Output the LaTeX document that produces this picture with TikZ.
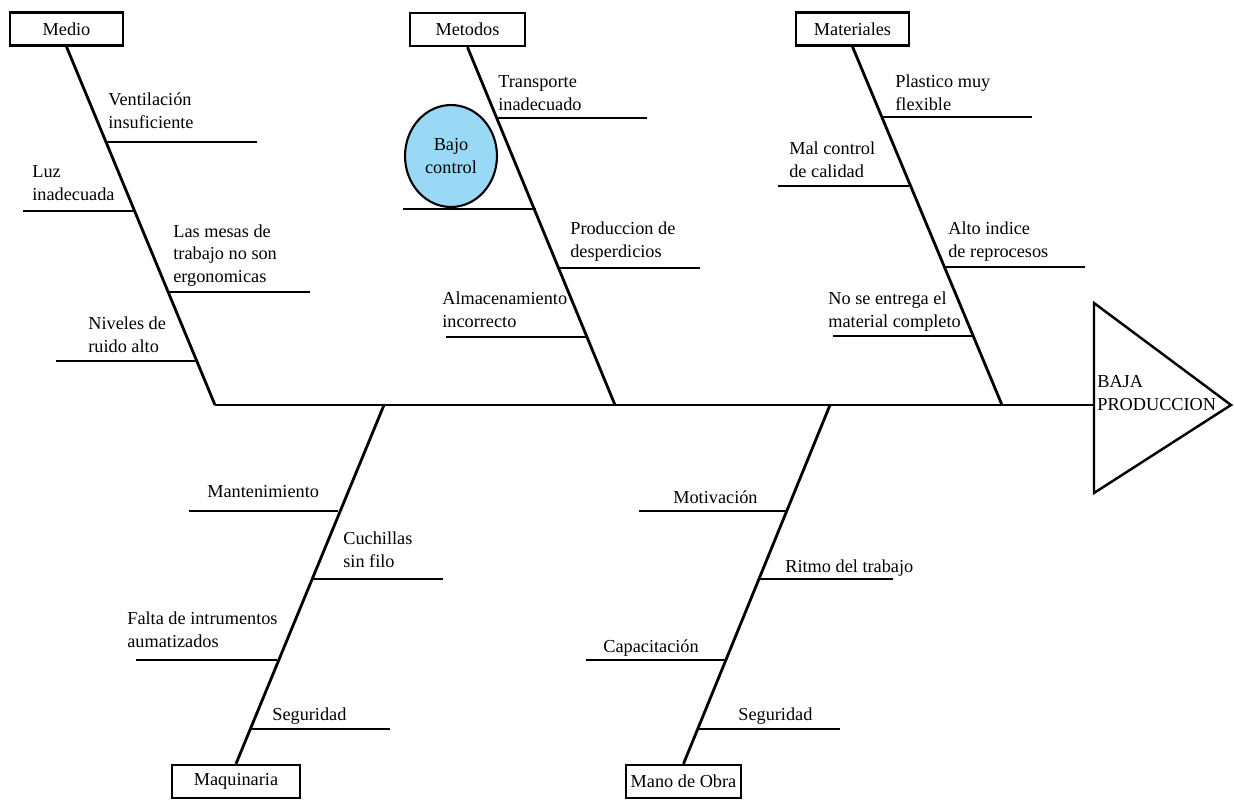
\documentclass[tikz,border=0pt]{standalone}
\usepackage{fontspec}
\setmainfont{Liberation Serif}
\usetikzlibrary{shapes.geometric}
\definecolor{bajoblue}{RGB}{153,217,245}

\tikzset{
  causebox/.style={draw,line width=1.4pt,minimum width=#1,minimum height=0.66cm,inner sep=0pt,font=\fontsize{10.4}{12.6}\selectfont},
  bone/.style={line width=1.6pt},
  lbl/.style={anchor=base west,align=left,inner sep=0pt,font=\fontsize{10.4}{12.6}\selectfont}
}

\begin{document}
\begin{tikzpicture}[x=0.02cm,y=-0.02cm]
\useasboundingbox (0,0) rectangle (1234,799);

% espina y cabeza
\coordinate (s1) at (215,405);
\coordinate (s2) at (615,405);
\coordinate (s3) at (1002,405);
\coordinate (s4) at (384,405);
\coordinate (s5) at (830,405);
\coordinate (tip) at (1094,405);
\draw[bone] (s1) -- (tip);
\draw[line width=1.4pt] (1094,303) -- (1231,405) -- (1094,493) -- cycle;
\node[lbl] (baja) at (1097,410) {BAJA\\PRODUCCION};

% cajas de causas
\node[causebox=2.26cm] (medio) at (66.5,29) {Medio};
\node[causebox=2.3cm] (metodos) at (467.5,29.5) {Metodos};
\node[causebox=2.26cm] (materiales) at (852.5,29) {Materiales};
\node[causebox=2.56cm] (maquinaria) at (236,781.5) {Maquinaria};
\node[causebox=2.3cm] (manoobra) at (683.5,781.5) {Mano de Obra};

\draw[bone] (medio.south) -- (s1);
\draw[bone] (metodos.south) -- (s2);
\draw[bone] (materiales.south) -- (s3);
\draw[bone] (maquinaria.north) -- (s4);
\draw[bone] (manoobra.north) -- (s5);

% Medio
\draw[bone] (107,142) -- (257,142);
\draw[bone] (23,211) -- (134,211);
\draw[bone] (168,292) -- (310,292);
\draw[bone] (56,361) -- (197,361);
\node[lbl] (vent) at (108,128) {Ventilación\\insuficiente};
\node[lbl] (luz) at (32,200) {Luz\\inadecuada};
\node[lbl] (mesas) at (173,282) {Las mesas de\\trabajo no son\\ergonomicas};
\node[lbl] (ruido) at (88,352) {Niveles de\\ruido alto};

% Metodos
\draw[bone] (496,118) -- (647,118);
\draw[bone] (403,209) -- (536,209);
\draw[bone] (558,268) -- (700,268);
\draw[bone] (446,337) -- (587,337);
\node[lbl] (transp) at (498,110) {Transporte\\inadecuado};
\node[ellipse,draw,line width=1.2pt,fill=bajoblue,minimum width=1.84cm,minimum height=2.04cm,inner sep=0pt,align=center,font=\fontsize{10.4}{12.6}\selectfont] (bajo) at (451,156) {Bajo\\control};
\node[lbl] (desp) at (570,257) {Produccion de\\desperdicios};
\node[lbl] (almac) at (442,327) {Almacenamiento\\incorrecto};

% Materiales
\draw[bone] (883,117) -- (1032,117);
\draw[bone] (778,186) -- (909,186);
\draw[bone] (945,267) -- (1085,267);
\draw[bone] (833,336) -- (972,336);
\node[lbl] (plast) at (895,110) {Plastico muy\\flexible};
\node[lbl] (calidad) at (789,177) {Mal control\\de calidad};
\node[lbl] (reproc) at (948,257) {Alto indice\\de reprocesos};
\node[lbl] (entrega) at (828,327) {No se entrega el\\material completo};

% Maquinaria
\draw[bone] (189,511) -- (338,511);
\draw[bone] (312,579) -- (443,579);
\draw[bone] (136,660) -- (277,660);
\draw[bone] (250,729) -- (390,729);
\node[lbl] (mant) at (207,497) {Mantenimiento};
\node[lbl] (cuch) at (343,567) {Cuchillas\\sin filo};
\node[lbl] (falta) at (127,647) {Falta de intrumentos\\aumatizados};
\node[lbl] (segmaq) at (272,720) {Seguridad};

% Mano de Obra
\draw[bone] (639,511) -- (787,511);
\draw[bone] (760,579) -- (893,579);
\draw[bone] (586,660) -- (727,660);
\draw[bone] (698,729) -- (840,729);
\node[lbl] (motiv) at (673,503) {Motivación};
\node[lbl] (ritmo) at (785,572) {Ritmo del trabajo};
\node[lbl] (capac) at (603,652) {Capacitación};
\node[lbl] (segmo) at (738,720) {Seguridad};

\end{tikzpicture}
\end{document}
